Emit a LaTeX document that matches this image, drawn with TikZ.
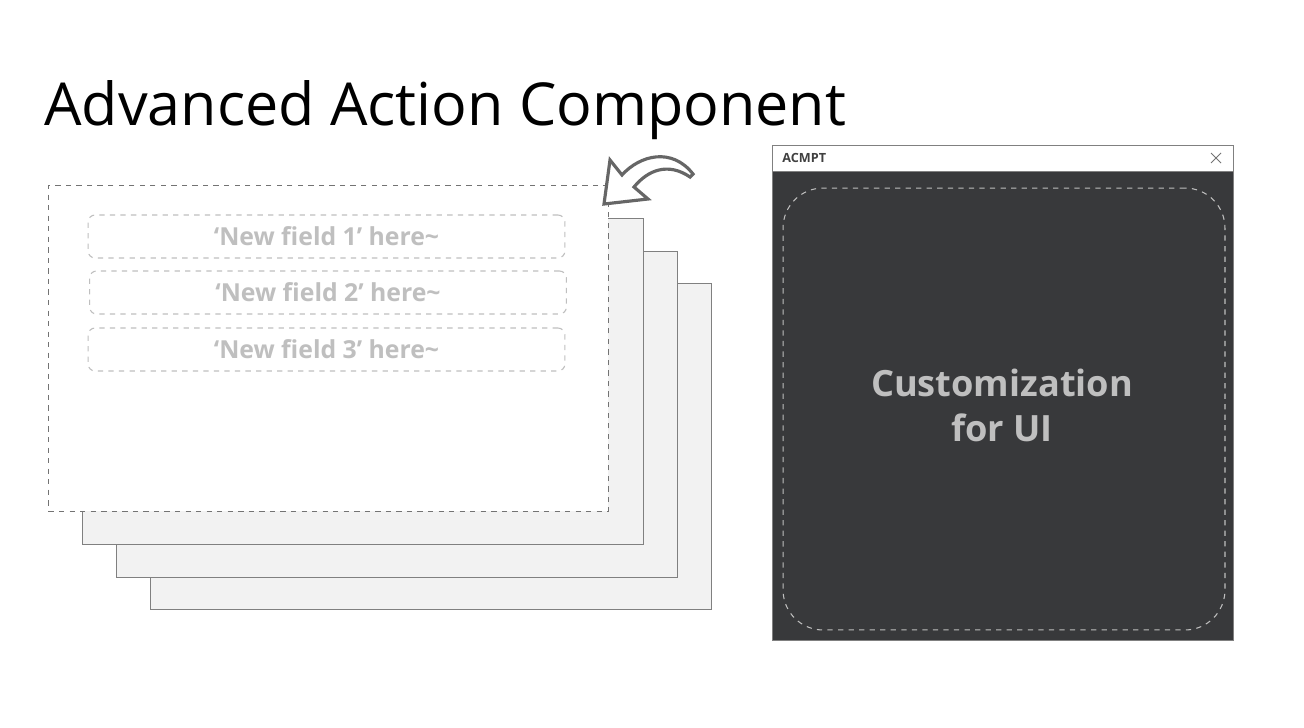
\documentclass[tikz,border=0pt]{standalone}
\usepackage{fontspec}
\setmainfont{Open Sans}
\usetikzlibrary{calc,positioning}
\definecolor{sheetgray}{HTML}{F2F2F2}
\definecolor{linegray}{HTML}{808080}
\definecolor{fieldgray}{HTML}{BFBFBF}
\definecolor{darkpanel}{HTML}{38393B}
\definecolor{arrowgray}{HTML}{666666}
\tikzset{
    sheet/.style={
    rectangle,draw=linegray,fill=sheetgray,line width=0.6pt,anchor=north west,inner sep=0pt,
    minimum width=11.22cm,minimum height=6.52cm
    },
    frontsheet/.style={
    rectangle,draw=linegray!90!black,fill=white,dashed,line width=0.6pt,anchor=north west,inner sep=0pt,
    minimum width=11.2cm,minimum height=6.52cm
    },
    fieldbox/.style={
    rectangle,rounded corners=4pt,dashed,draw=fieldgray,line width=0.6pt,
    minimum width=9.54cm,minimum height=0.86cm,inner sep=0pt,
    text=fieldgray,font=\fontsize{14.1}{16}\selectfont\bfseries
    },
    window/.style={
    rectangle,draw=linegray,fill=white,line width=0.6pt,anchor=north west,inner sep=0pt,
    minimum width=9.22cm,minimum height=9.9cm
    },
    panel/.style={
    rectangle,draw=linegray,fill=darkpanel,line width=0.6pt,anchor=north west,inner sep=0pt,
    minimum width=9.22cm,minimum height=9.38cm
    },
    droparea/.style={
    rectangle,rounded corners=0.8cm,dashed,draw=fieldgray,line width=0.6pt,inner sep=0pt,
    minimum width=8.84cm,minimum height=8.84cm
    },
}

\begin{document}
\begin{tikzpicture}[x=0.02cm, y=-0.02cm]
   \useasboundingbox (0,0) rectangle (1304,727);
   \node[anchor=base west,inner sep=0pt,font=\fontsize{33.7}{40}\selectfont] (title) at (44,125) {Advanced Action Component};

   % stacked sheets
   \node[sheet] (s3) at (150,283) {};
   \node[sheet] (s2) at (116,251) {};
   \node[sheet] (s1) at (82,218) {};
   \node[frontsheet] (s0) at (48,185) {};
   \node[fieldbox] (f1) at (326.5,236.5) {‘New field 1’ here\textasciitilde};
   \node[fieldbox] (f2) at (328,292.5) {‘New field 2’ here\textasciitilde};
   \node[fieldbox] (f3) at (326.5,349.5) {‘New field 3’ here\textasciitilde};

   % curved arrow
   \draw[arrowgray,fill=white,line width=1.8pt,line join=miter]
     (604,204) -- (610,160) -- (622,175)
     .. controls (640,155) and (672,147) .. (693,174)
     -- (690,177)
     .. controls (668,162) and (648,170) .. (634,187)
     -- (648,199) -- cycle;

   % window
   \node[window] (win) at (772,145) {};
   \node[panel] (body) at (772,171) {};
   \node[anchor=west,inner sep=0pt,text=black!75,font=\fontsize{7.2}{9}\selectfont\bfseries] (wtitle) at (782,158) {ACMPT};
   \coordinate (xc) at (1216,158);
   \draw[black!55,line width=0.5pt] ($(xc)+(-5,-5)$) -- ($(xc)+(5,5)$) ($(xc)+(-5,5)$) -- ($(xc)+(5,-5)$);
   \node[droparea] (drop) at (1004,409) {};
   \node[align=center,text=fieldgray,font=\fontsize{20.6}{25.6}\selectfont\bfseries] (custom) at (1002,405) {Customization\\for UI};
\end{tikzpicture}
\end{document}
